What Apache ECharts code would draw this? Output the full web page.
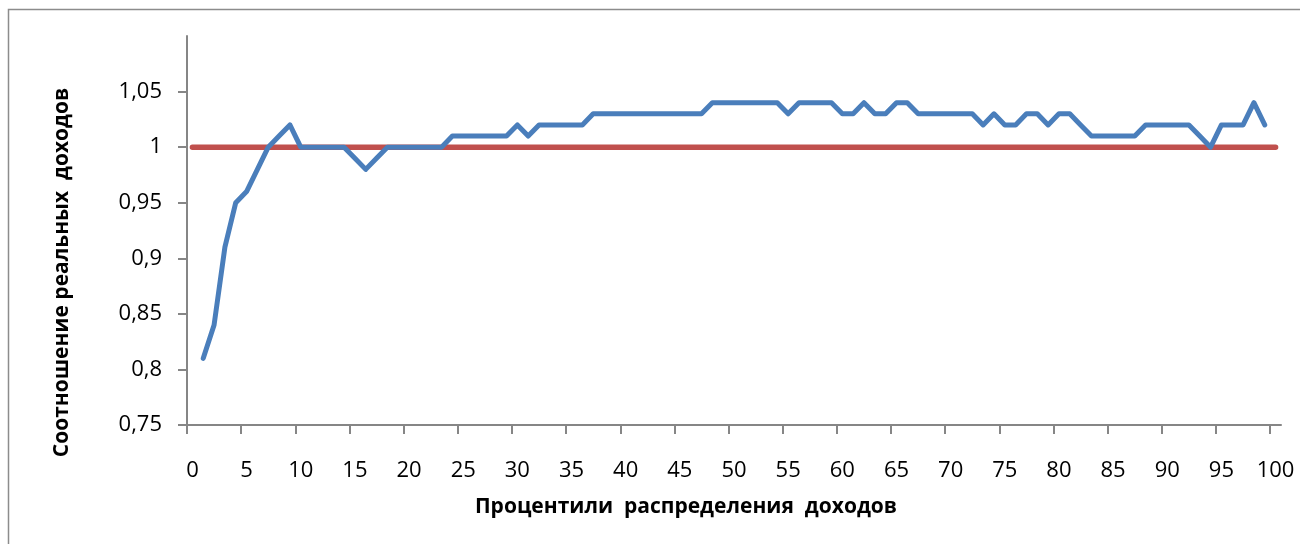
<!DOCTYPE html>
<html lang="ru">
<head>
    <title>Соотношение реальных доходов</title>
    <meta charset="utf-8">
    <style>
        html, body {margin: 0; padding: 0; background: #fff;}
        #container {width: 1300px; height: 544px;}
    </style>
</head>
<body>
<div id="container"></div>

<script src="https://cdn.jsdelivr.net/npm/echarts@6/dist/echarts.min.js"></script>
<script>
// процентили 0..100
var percentiles = [];
for (var i = 0; i <= 100; i++) percentiles.push(String(i));

// соотношение реальных доходов по процентилям (0 и 100 - нет точки)
var ratio = [
    null, 0.81, 0.84, 0.91, 0.95, 0.96, 0.98, 1.00, 1.01, 1.02,
    1.00, 1.00, 1.00, 1.00, 1.00, 0.99, 0.98, 0.99, 1.00, 1.00,
    1.00, 1.00, 1.00, 1.00, 1.01, 1.01, 1.01, 1.01, 1.01, 1.01,
    1.02, 1.01, 1.02, 1.02, 1.02, 1.02, 1.02, 1.03, 1.03, 1.03,
    1.03, 1.03, 1.03, 1.03, 1.03, 1.03, 1.03, 1.03, 1.04, 1.04,
    1.04, 1.04, 1.04, 1.04, 1.04, 1.03, 1.04, 1.04, 1.04, 1.04,
    1.03, 1.03, 1.04, 1.03, 1.03, 1.04, 1.04, 1.03, 1.03, 1.03,
    1.03, 1.03, 1.03, 1.02, 1.03, 1.02, 1.02, 1.03, 1.03, 1.02,
    1.03, 1.03, 1.02, 1.01, 1.01, 1.01, 1.01, 1.01, 1.02, 1.02,
    1.02, 1.02, 1.02, 1.01, 1.00, 1.02, 1.02, 1.02, 1.04, 1.02,
    null
];

// базовая линия = 1
var baseline = percentiles.map(function () { return 1; });

var yTicks = [0.75, 0.8, 0.85, 0.9, 0.95, 1, 1.05];
var xTicks = [0, 5, 10, 15, 20, 25, 30, 35, 40, 45, 50, 55, 60, 65, 70, 75, 80, 85, 90, 95, 100];

var axisGray = '#868686';
var font = 'Open Sans';

var myChart = echarts.init(document.getElementById('container'));
var options = {
    animation: false,
    textStyle: {fontFamily: font},
    graphic: [{
        type: 'rect',
        shape: {x: 8.5, y: 9.5, width: 1320, height: 560},
        style: {fill: 'none', stroke: '#8c8c8c', lineWidth: 1.5},
        silent: true
    }],
    grid: {left: 187, right: 19, top: 36, bottom: 119},
    xAxis: [{
        type: 'category',
        data: percentiles,
        boundaryGap: true,
        name: 'Процентили  распределения  доходов',
        nameLocation: 'middle',
        nameGap: 72,
        nameTextStyle: {
            fontFamily: font, fontSize: 21, fontWeight: 'bold', color: '#000',
            padding: [0, 96, 0, 0]
        },
        axisLine: {lineStyle: {color: axisGray, width: 2}},
        axisTick: {show: false},
        axisLabel: {
            interval: 4,
            margin: 35,
            fontSize: 22,
            color: '#000',
            fontFamily: font
        },
        splitLine: {show: false}
    }, {
        // только для засечек на границах групп по 5 процентилей
        type: 'value',
        position: 'bottom',
        min: 0,
        max: 101,
        axisLine: {show: false},
        axisLabel: {show: false},
        axisTick: {
            show: true,
            length: 9,
            customValues: xTicks,
            lineStyle: {color: axisGray, width: 2}
        },
        splitLine: {show: false}
    }],
    yAxis: {
        type: 'value',
        min: 0.75,
        max: 1.1,
        interval: 0.05,
        name: 'Соотношение реальных  доходов',
        nameLocation: 'middle',
        nameGap: 114,
        nameTextStyle: {
            fontFamily: font, fontSize: 21, fontWeight: 'bold', color: '#000',
            padding: [0, 84, 0, 0]
        },
        axisLine: {show: true, lineStyle: {color: axisGray, width: 2}},
        axisTick: {
            show: true,
            length: 9,
            customValues: yTicks,
            lineStyle: {color: axisGray, width: 2}
        },
        axisLabel: {
            customValues: yTicks,
            margin: 25,
            fontSize: 22,
            color: '#000',
            fontFamily: font,
            formatter: function (v) {
                return String(Math.round(v * 100) / 100).replace('.', ',');
            }
        },
        splitLine: {show: false}
    },
    series: [{
        name: 'Базовый уровень',
        type: 'line',
        data: baseline,
        showSymbol: false,
        symbol: 'none',
        lineStyle: {color: '#C0504D', width: 5.5, cap: 'round'},
        z: 2
    }, {
        name: 'Соотношение',
        type: 'line',
        data: ratio,
        showSymbol: false,
        symbol: 'none',
        lineStyle: {color: '#4A7EBB', width: 5, join: 'round', cap: 'round'},
        z: 3
    }]
};
myChart.setOption(options);
</script>
</body>
</html>
